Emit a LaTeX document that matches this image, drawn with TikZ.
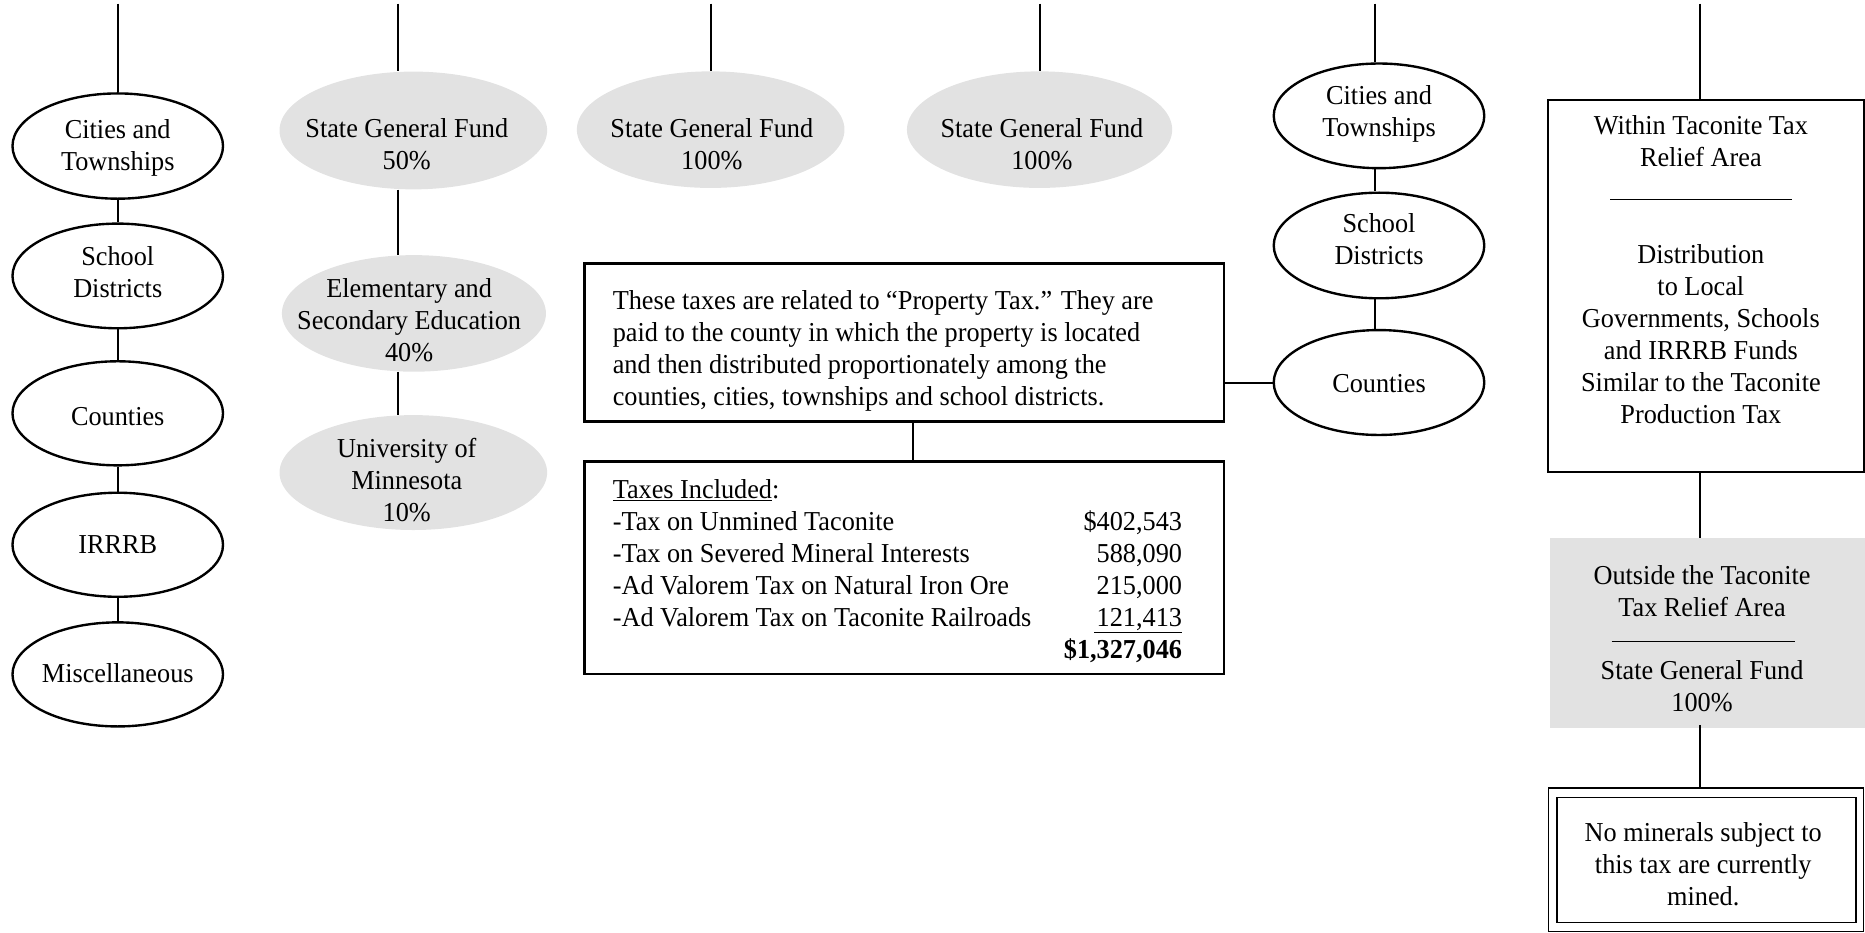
\documentclass[tikz,border=0pt]{standalone}
\usepackage{fontspec}
\setmainfont[FakeStretch=0.96]{Liberation Serif}
\usetikzlibrary{shapes.geometric}
\definecolor{gfill}{RGB}{226,226,226}
\newcommand{\fsz}{\fontsize{23}{26.9}\selectfont}
\begin{document}
\begin{tikzpicture}[x=1pt,y=-1pt,
  ell/.style={draw, ellipse, line width=2pt, inner sep=0pt, minimum width=177pt},
  gell/.style={ellipse, fill=gfill, inner sep=0pt},
  box/.style={draw, rectangle, line width=2pt, inner sep=0pt},
  txt/.style={align=center, font=\fsz, inner sep=0pt},
  conn/.style={line width=1.7pt},
  rulel/.style={line width=1pt}]
\useasboundingbox (0,0) rectangle (1568,784);

% top coordinates
\coordinate (t1) at (99,3);
\coordinate (t2) at (335,3);
\coordinate (t3) at (597.5,3);
\coordinate (t4) at (874,3);
\coordinate (t5) at (1156,3);
\coordinate (t6) at (1429,3);
\coordinate (m) at (767.3,0);

% column 1
\node[ell, minimum height=88.5pt] (e1) at (99,122.8) {};
\node[txt] (e1t) at (99,124.3) {Cities and\\Townships};
\node[ell, minimum height=88pt] (e2) at (99,232) {};
\node[txt] (e2t) at (99,229) {School\\Districts};
\node[ell, minimum height=87.5pt] (e3) at (99,347.5) {};
\node[txt] (e3t) at (99,350.5) {Counties};
\node[ell, minimum height=87.5pt] (e4) at (99,458) {};
\node[txt] (e4t) at (e4) {IRRRB};
\node[ell, minimum height=87.5pt] (e5) at (99,567) {};
\node[txt] (e5t) at (99,566) {Miscellaneous};

% column 2
\node[gell, minimum width=225pt, minimum height=99pt] (g1) at (347.5,109.7) {};
\node[txt] (g1t) at (342,121) {State General Fund\\50\%};
\node[gell, minimum width=222pt, minimum height=98pt] (g2) at (348,263.5) {};
\node[txt] (g2t) at (344,269) {Elementary and\\Secondary Education\\40\%};
\node[gell, minimum width=225pt, minimum height=96.6pt] (g3) at (347.5,397.3) {};
\node[txt] (g3t) at (342,404) {University of\\Minnesota\\10\%};

% columns 3 and 4
\node[gell, minimum width=225pt, minimum height=98pt] (g4) at (597.5,109) {};
\node[txt] (g4t) at (598.5,121) {State General Fund\\100\%};
\node[gell, minimum width=223pt, minimum height=98pt] (g5) at (874,109) {};
\node[txt] (g5t) at (876,121) {State General Fund\\100\%};

% property tax boxes
\node[box, minimum width=537.5pt, minimum height=133.1pt] (b1) at (760.25,287.95) {};
\node[font=\fsz, inner sep=0pt, anchor=base west] (b1t) at (515,260)
  {\begin{tabular}[t]{@{}l@{}}
   These taxes are related to “Property Tax.” They are\\
   paid to the county in which the property is located\\
   and then distributed proportionately among the\\
   counties, cities, townships and school districts.
   \end{tabular}};
\node[box, minimum width=537.5pt, minimum height=178.7pt] (b2) at (760.25,477.35) {};
\node[font=\fsz, inner sep=0pt, anchor=base west] (b2t) at (515,419)
  {\begin{tabular*}{478.6pt}[t]{@{}l@{\extracolsep{\fill}}r@{}}
   \underline{Taxes Included}: & \\
   -Tax on Unmined Taconite & \$402,543\\
   -Tax on Severed Mineral Interests & 588,090\\
   -Ad Valorem Tax on Natural Iron Ore & 215,000\\
   -Ad Valorem Tax on Taconite Railroads & \underline{\hspace{2pt}121,413}\\
   & \textbf{\$1,327,046}
   \end{tabular*}};

% column 5
\node[ell, minimum height=88pt] (c1) at (1159.4,97.4) {};
\node[txt] (c1t) at (1159.4,95.4) {Cities and\\Townships};
\node[ell, minimum height=88.8pt] (c2) at (1159.4,206.4) {};
\node[txt] (c2t) at (1159.4,201.4) {School\\Districts};
\node[ell, minimum height=88.2pt] (c3) at (1159.4,321.6) {};
\node[txt] (c3t) at (1159.4,322.6) {Counties};

% column 6
\node[box, minimum width=265.5pt, minimum height=312.6pt] (r1) at (1434.25,240.3) {};
\node[font=\fsz, inner sep=0pt, anchor=base] (r1a) at (1430,113.5)
  {\begin{tabular}[t]{@{}c@{}}Within Taconite Tax\\Relief Area\end{tabular}};
\draw[rulel] (1354,168) -- (1506.6,168);
\node[font=\fsz, inner sep=0pt, anchor=base] (r1b) at (1430,221.4)
  {\begin{tabular}[t]{@{}c@{}}Distribution\\to Local\\Governments, Schools\\and IRRRB Funds\\Similar to the Taconite\\Production Tax\end{tabular}};

\node[rectangle, fill=gfill, inner sep=0pt, minimum width=265pt, minimum height=159.7pt] (r2) at (1435.5,532.45) {};
\node[font=\fsz, inner sep=0pt, anchor=base] (r2a) at (1431,491.8)
  {\begin{tabular}[t]{@{}c@{}}Outside the Taconite\\Tax Relief Area\end{tabular}};
\draw[rulel] (1355,539.5) -- (1509,539.5);
\node[font=\fsz, inner sep=0pt, anchor=base] (r2b) at (1431,571.7)
  {\begin{tabular}[t]{@{}c@{}}State General Fund\\100\%\end{tabular}};

\node[draw, line width=1.4pt, inner sep=0pt, minimum width=264.8pt, minimum height=120.5pt] (r3) at (1434.4,723) {};
\node[draw, line width=1.4pt, inner sep=0pt, minimum width=251.2pt, minimum height=105.3pt] (r3i) at (1434.9,723) {};
\node[font=\fsz, inner sep=0pt, anchor=base] (r3t) at (1432,707.6)
  {\begin{tabular}[t]{@{}c@{}}No minerals subject to\\this tax are currently\\mined.\end{tabular}};

% connectors
\draw[conn] (t1) -- (e1);
\draw[conn] (e1) -- (e2);
\draw[conn] (e2) -- (e3);
\draw[conn] (e3) -- (e4);
\draw[conn] (e4) -- (e5);
\draw[conn] (t2) -- (t2 |- g1.north);
\draw[conn] (g1.south -| t2) -- (g2.north -| t2);
\draw[conn] (g2.south -| t2) -- (g3.north -| t2);
\draw[conn] (t3) -- (g4);
\draw[conn] (t4) -- (g5);
\draw[conn] (t5) -- (t5 |- c1.north);
\draw[conn] (c1.south -| t5) -- (c2.north -| t5);
\draw[conn] (c2.south -| t5) -- (c3.north -| t5);
\draw[conn] (b1.east |- c3) -- (c3.west);
\draw[conn] (b1.south -| m) -- (b2.north -| m);
\draw[conn] (t6) -- (t6 |- r1.north);
\draw[conn] (r1.south -| t6) -- (r2.north -| t6);
\draw[conn] ([yshift=3pt]r2.south -| t6) -- (r3.north -| t6);
\end{tikzpicture}
\end{document}
